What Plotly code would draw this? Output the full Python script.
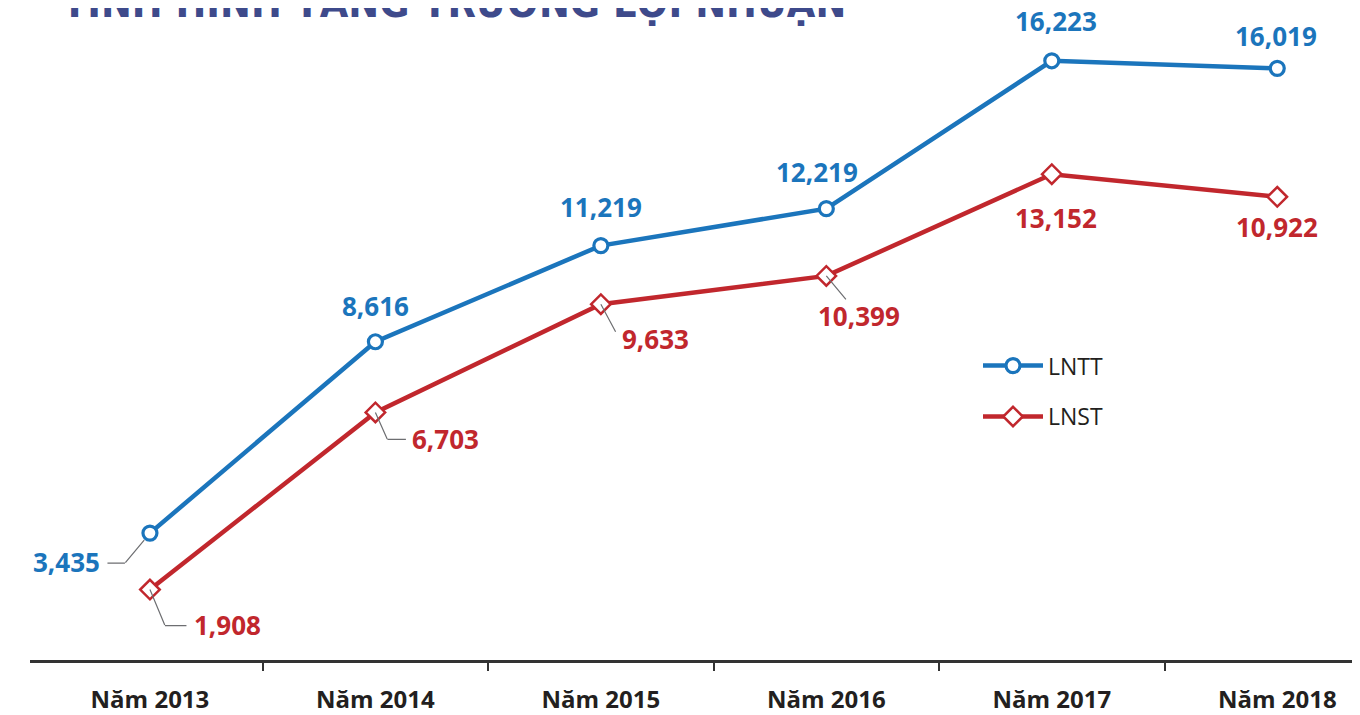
import plotly.graph_objects as go

# ---------------- data ----------------
years = [2013, 2014, 2015, 2016, 2017, 2018]
year_labels = ["Năm 2013", "Năm 2014", "Năm 2015", "Năm 2016", "Năm 2017", "Năm 2018"]
lntt = [3435, 8616, 11219, 12219, 16223, 16019]
# the 2018 LNST marker is drawn at roughly the 12,540 level in the reference although it is labelled 10,922
lnst = [1908, 6703, 9633, 10399, 13152, 12540]
lntt_labels = ["3,435", "8,616", "11,219", "12,219", "16,223", "16,019"]
lnst_labels = ["1,908", "6,703", "9,633", "10,399", "13,152", "10,922"]
series_names = ["LNTT", "LNST"]
title_text = "TÌNH HÌNH TĂNG TRƯỞNG LỢI NHUẬN"
# separator ticks under the axis, between the years
separator_ticks = [2013.5, 2014.5, 2015.5, 2016.5, 2017.5]

# ---------------- styles ----------------
BLUE = "#1b75bc"
RED = "#c1272d"
GREY = "#6d6e71"
DARK = "#231f20"
TITLE = "#3e4a8b"
LABEL_FONT = "Open Sans"

# the page body has an 8px margin: figure is sized/placed to compensate
W, H = 1352, 707
ML, MR, MT, MB = 22, 0, 0, 51.4
PLOT_H = H - MT - MB
PX_PER_UNIT = 0.03714

# label placement (pixel offsets from the marker, dy positive = down)
lntt_style = [
    dict(leader=[(-25, 30), (-43, 30)], pos=(-48, 29), anchor="right", standoff=9),
    dict(pos=(0, -36), anchor="center"),
    dict(pos=(0, -39), anchor="center"),
    dict(pos=(-9, -37), anchor="center"),
    dict(pos=(4, -39.5), anchor="center"),
    dict(pos=(-1, -32.5), anchor="center"),
]
lnst_style = [
    dict(leader=[(15, 36), (37, 36)], pos=(42, 35), anchor="left", standoff=0),
    dict(leader=[(12, 27), (31, 27)], pos=(35, 26.5), anchor="left", standoff=0),
    dict(leader=[(15, 28)], pos=(19, 35), anchor="left", standoff=0),
    dict(leader=[(20, 24)], pos=(33, 40), anchor="center", standoff=0),
    dict(pos=(4, 44), anchor="center"),
    dict(pos=(0, 30.5), anchor="center"),
]

fig = go.Figure()
fig.add_trace(go.Scatter(
    x=years, y=lntt, name=series_names[0], mode="lines+markers",
    line=dict(color=BLUE, width=4.5),
    marker=dict(symbol="circle", size=14, color="white", line=dict(color=BLUE, width=3.2)),
    legendgroup="a", cliponaxis=False,
))
fig.add_trace(go.Scatter(
    x=years, y=lnst, name=series_names[1], mode="lines+markers",
    line=dict(color=RED, width=4.5),
    marker=dict(symbol="diamond", size=15, color="white", line=dict(color=RED, width=2.5)),
    legendgroup="b", cliponaxis=False,
))

annotations = []


def add_labels(xs, ys, texts, styles, color):
    for x, y, t, st in zip(xs, ys, texts, styles):
        prev = (0, 0)
        for k, p in enumerate(st.get("leader", [])):
            annotations.append(dict(
                x=x, y=y, xref="x", yref="y", text="", showarrow=True,
                arrowhead=0, arrowwidth=1.2, arrowcolor=GREY,
                ax=p[0] - prev[0], ay=p[1] - prev[1],
                xshift=prev[0], yshift=-prev[1],
                standoff=st.get("standoff", 0) if k == 0 else 0,
                borderpad=0,
            ))
            prev = p
        annotations.append(dict(
            x=x, y=y, xref="x", yref="y", text=t, showarrow=False,
            xanchor=st["anchor"], yanchor="middle",
            xshift=st["pos"][0], yshift=-st["pos"][1],
            font=dict(family=LABEL_FONT, size=26, color=color, weight="bold"),
        ))


add_labels(years, lntt, lntt_labels, lntt_style, BLUE)
add_labels(years, lnst, lnst_labels, lnst_style, RED)

annotations.append(dict(
    x=30 / 1330, y=1 - 21 / PLOT_H, xref="paper", yref="paper",
    text="<b>" + title_text + "</b>", showarrow=False,
    xanchor="left", yanchor="bottom",
    font=dict(family="Liberation Sans Narrow, DejaVu Sans Condensed, Arial Narrow, sans-serif",
              size=41, color=TITLE),
))

fig.update_layout(
    width=W, height=H,
    margin=dict(l=ML, r=MR, t=MT, b=MB),
    paper_bgcolor="white", plot_bgcolor="white",
    showlegend=True,
    legend=dict(
        x=(978 - 30) / 1330, y=1 - 338 / PLOT_H, xanchor="left", yanchor="top",
        font=dict(family=LABEL_FONT, size=23, color=DARK),
        bgcolor="rgba(0,0,0,0)", tracegroupgap=18, itemwidth=60,
    ),
    annotations=annotations,
    xaxis=dict(
        range=[2012.468, 2018.367],
        tickmode="array", tickvals=years, ticktext=year_labels,
        ticks="", showgrid=False, zeroline=False,
        showline=True, linecolor="#333333", linewidth=2.5,
        tickfont=dict(family=LABEL_FONT, size=24, color=DARK, weight="bold"),
        ticklabelstandoff=16,
        minor=dict(tickmode="array", tickvals=separator_ticks, ticks="outside",
                   ticklen=8, tickwidth=2, tickcolor="#333333", showgrid=False),
        fixedrange=True,
    ),
    yaxis=dict(
        range=[0, PLOT_H / PX_PER_UNIT], visible=False, showgrid=False, zeroline=False,
        fixedrange=True,
    ),
)

fig.write_html("out.html")
